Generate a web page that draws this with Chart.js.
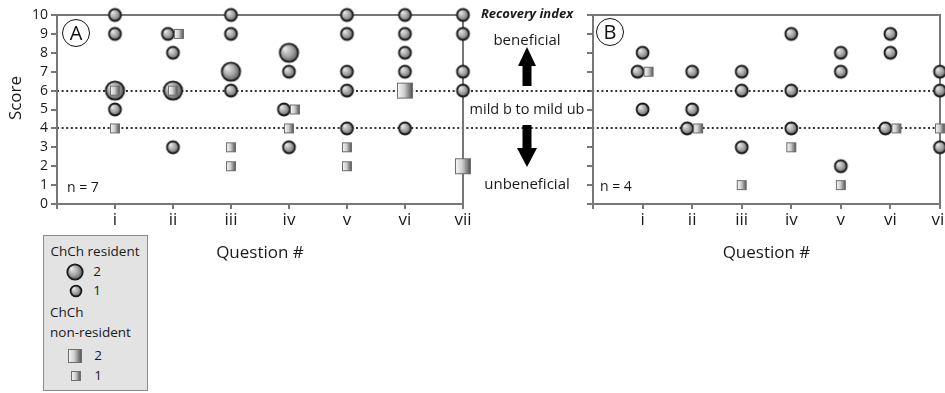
<!DOCTYPE html>
<html><head><meta charset="utf-8">
<script src="https://cdn.jsdelivr.net/npm/chart.js@4/dist/chart.umd.min.js"></script>
<style>
html,body{margin:0;padding:0;background:#fff;}
body{width:945px;height:393px;position:relative;overflow:hidden;font-family:"Open Sans",sans-serif;color:#1a1a1a;}
.t{position:absolute;white-space:nowrap;transform:translate(-50%,-50%);line-height:1;}
.tl{position:absolute;white-space:nowrap;transform:translate(0,-50%);line-height:1;}
#cA{position:absolute;left:0;top:0;}
#cB{position:absolute;left:560px;top:0;}
.badge{position:absolute;width:26px;height:26px;border:1.6px solid #111;border-radius:50%;transform:translate(-50%,-50%);display:flex;align-items:center;justify-content:center;font-size:20px;line-height:1;color:#111;}
#legend{position:absolute;left:43px;top:235px;width:103px;height:154px;background:#e3e3e3;border:1.5px solid #8a8a8a;font-size:13.5px;}
#legend canvas{position:absolute;transform:translate(-50%,-50%);}
#score{position:absolute;left:14px;top:98px;transform:translate(-50%,-50%) rotate(-90deg);font-size:17px;white-space:nowrap;line-height:1;}
</style></head><body>
<canvas id="cA" width="560" height="393"></canvas>
<canvas id="cB" width="400" height="393"></canvas>

<div id="score">Score</div>
<div class="t" style="left:527px;top:13px;font-weight:bold;font-style:italic;font-size:13px;">Recovery index</div>
<div class="t" style="left:527px;top:39px;font-size:15px;">beneficial</div>
<div class="t" style="left:527px;top:109px;font-size:14.5px;">mild b to mild ub</div>
<div class="t" style="left:527px;top:183px;font-size:15px;">unbeneficial</div>
<div class="badge" style="left:76px;top:33px;">A</div>
<div class="badge" style="left:610px;top:32px;">B</div>
<div class="tl" style="left:67px;top:187px;font-size:14px;">n = 7</div>
<div class="tl" style="left:600px;top:186px;font-size:14px;">n = 4</div>

<div id="legend">
  <div class="t" style="left:51px;top:16px;">ChCh resident</div>
  <div class="t" style="left:53px;top:36px;">2</div>
  <div class="t" style="left:53px;top:55px;">1</div>
  <div class="tl" style="left:6px;top:77px;">ChCh</div>
  <div class="tl" style="left:6px;top:97px;">non-resident</div>
  <div class="t" style="left:54px;top:120px;">2</div>
  <div class="t" style="left:54px;top:140px;">1</div>
</div>

<script>
// ---------- data ----------
const questions = ['i','ii','iii','iv','v','vi','vii'];
const scoreTicks = [0,1,2,3,4,5,6,7,8,9,10];
const refLines = [4, 6];
// [question, score, number of respondents]
const residentA = [
  ['i',10,1],['i',9,1],['i',6,2],['i',5,1],
  ['ii',9,1],['ii',8,1],['ii',6,2],['ii',3,1],
  ['iii',10,1],['iii',9,1],['iii',7,2],['iii',6,1],
  ['iv',8,2],['iv',7,1],['iv',5,1],['iv',3,1],
  ['v',10,1],['v',9,1],['v',7,1],['v',6,1],['v',4,1],
  ['vi',10,1],['vi',9,1],['vi',8,1],['vi',7,1],['vi',4,1],
  ['vii',10,1],['vii',9,1],['vii',7,1],['vii',6,1]
];
const nonResidentA = [
  ['i',6,1],['i',4,1],['ii',9,1],['ii',6,1],['iii',3,1],['iii',2,1],
  ['iv',5,1],['iv',4,1],['v',3,1],['v',2,1],['vi',6,2],['vii',2,2]
];
const residentB = [
  ['i',8,1],['i',7,1],['i',5,1],
  ['ii',7,1],['ii',5,1],['ii',4,1],
  ['iii',7,1],['iii',6,1],['iii',3,1],
  ['iv',9,1],['iv',6,1],['iv',4,1],
  ['v',8,1],['v',7,1],['v',2,1],
  ['vi',9,1],['vi',8,1],['vi',4,1],
  ['vii',7,1],['vii',6,1],['vii',3,1]
];
const nonResidentB = [
  ['i',7,1],['ii',4,1],['iii',1,1],['iv',3,1],['v',1,1],['vi',4,1],['vii',4,1]
];

// ---------- marker images ----------
function makeCircle(r){
  const c=document.createElement('canvas'); const s=Math.ceil(2*r+3); c.width=s; c.height=s;
  const g=c.getContext('2d'); const m=s/2;
  const gr=g.createRadialGradient(m-r*0.45,m-r*0.45,0,m,m,r*1.05);
  gr.addColorStop(0,'#f2f2f2'); gr.addColorStop(0.55,'#a5a5a5'); gr.addColorStop(1,'#4a4a4a');
  g.beginPath(); g.arc(m,m,r-0.8,0,Math.PI*2); g.fillStyle=gr; g.fill();
  g.lineWidth=1.8; g.strokeStyle='#1a1a1a'; g.stroke();
  return c;
}
function makeSquare(w){
  const c=document.createElement('canvas'); const s=Math.ceil(w+2); c.width=s; c.height=s;
  const g=c.getContext('2d'); const o=(s-w)/2;
  const gr=g.createLinearGradient(o,0,o+w,0);
  gr.addColorStop(0,'#fbfbfb'); gr.addColorStop(0.45,'#cfcfcf'); gr.addColorStop(1,'#474747');
  g.fillStyle=gr; g.fillRect(o,o,w,w);
  g.lineWidth=1; g.strokeStyle='#6e6e6e'; g.strokeRect(o+0.5,o+0.5,w-1,w-1);
  return c;
}
const circle1=makeCircle(6.8), circle2=makeCircle(10);
const square1=makeSquare(10), square2=makeSquare(16);

// legend markers
(function(){
  const lg=document.getElementById('legend');
  [[makeCircle(8.5),31,36],[makeCircle(6.2),32,55],[makeSquare(14),31,120],[makeSquare(10),32,140]].forEach(([cv,x,y])=>{
    cv.style.left=x+'px'; cv.style.top=y+'px'; lg.appendChild(cv);
  });
})();

// ---------- build points ----------
function buildPanel(res, nonres, pxPerUnit){
  const key=(q,s)=>q+'|'+s;
  const pairs=new Set();
  res.forEach(([q,s,n])=>{ if(n===1 && nonres.some(([q2,s2,n2])=>q2===q&&s2===s&&n2===1)) pairs.add(key(q,s)); });
  const circ=res.map(([q,s,n])=>({x:questions.indexOf(q)+1+(pairs.has(key(q,s))?-5/pxPerUnit:0),y:s,n}));
  const sq=nonres.map(([q,s,n])=>({x:questions.indexOf(q)+1+(pairs.has(key(q,s))?6/pxPerUnit:0),y:s,n}));
  return {circ,sq};
}

const framePlugin={
  id:'frame',
  beforeDatasetsDraw(chart,args,opts){
    const {ctx,chartArea:a}=chart; const ys=chart.scales.y;
    ctx.save();
    ctx.strokeStyle='#333'; ctx.lineWidth=2; ctx.setLineDash([2,2.6]);
    refLines.forEach(v=>{
      const py=Math.round(ys.getPixelForValue(v));
      ctx.beginPath();
      ctx.moveTo(opts.extendLeft?0:a.left,py);
      ctx.lineTo(opts.extendRight?chart.width:a.right,py);
      ctx.stroke();
    });
    ctx.setLineDash([]);
    ctx.strokeStyle='#777'; ctx.lineWidth=2;
    ctx.strokeRect(a.left,a.top,a.right-a.left,a.bottom-a.top);
    ctx.restore();
  },
  afterDraw(chart,args,opts){
    if(!opts.arrows) return;
    const ctx=chart.ctx; const cx=527;
    ctx.save(); ctx.fillStyle='#000';
    ctx.beginPath();
    ctx.moveTo(cx,47); ctx.lineTo(cx+9,66); ctx.lineTo(cx+4.5,66); ctx.lineTo(cx+4.5,86);
    ctx.lineTo(cx-4.5,86); ctx.lineTo(cx-4.5,66); ctx.lineTo(cx-9,66); ctx.closePath(); ctx.fill();
    ctx.beginPath();
    ctx.moveTo(cx,167); ctx.lineTo(cx+10,148); ctx.lineTo(cx+4.5,148); ctx.lineTo(cx+4.5,125);
    ctx.lineTo(cx-4.5,125); ctx.lineTo(cx-4.5,148); ctx.lineTo(cx-10,148); ctx.closePath(); ctx.fill();
    ctx.restore();
  }
};

Chart.defaults.font.family="'Open Sans', sans-serif";
Chart.defaults.color='#1a1a1a';

function makeChart(id, res, nonres, isA){
  const ppu = isA ? 58 : 49.6;
  const {circ,sq}=buildPanel(res,nonres,ppu);
  const gridCol='#777';
  return new Chart(document.getElementById(id),{
    type:'scatter',
    data:{datasets:[
      {label:'ChCh non-resident',data:sq,order:0,clip:false,
       pointStyle:c=>c.raw&&c.raw.n===2?square2:square1,
       pointRadius:c=>c.raw&&c.raw.n===2?8:5, pointHoverRadius:c=>c.raw&&c.raw.n===2?8:5},
      {label:'ChCh resident',data:circ,order:1,clip:false,
       pointStyle:c=>c.raw&&c.raw.n===2?circle2:circle1,
       pointRadius:c=>c.raw&&c.raw.n===2?10:6.8, pointHoverRadius:c=>c.raw&&c.raw.n===2?10:6.8}
    ]},
    options:{
      responsive:false, animation:false, events:[],
      layout:{padding:{left:0,right:isA?97:20,top:15,bottom:130}},
      plugins:{legend:{display:false},tooltip:{enabled:false},
        frame:{extendLeft:!isA,extendRight:isA,arrows:isA}},
      scales:{
        x:{type:'linear',min:0,max:7,
          afterBuildTicks:s=>{s.ticks=[0,1,2,3,4,5,6,7].map(v=>({value:v}));},
          ticks:{callback:v=>v===0?'':questions[v-1],font:{size:17},padding:1,maxRotation:0,autoSkip:false},
          grid:{drawOnChartArea:false,tickLength:5,color:gridCol,lineWidth:2},
          border:{color:gridCol,width:2},
          title:{display:true,text:'Question #',font:{size:17},padding:0},
          afterFit:s=>{s.height=59;}
        },
        y:{type:'linear',min:0,max:10,
          afterBuildTicks:s=>{s.ticks=scoreTicks.map(v=>({value:v}));},
          ticks:{display:isA,font:{size:14},padding:3,autoSkip:false},
          grid:{drawOnChartArea:false,tickLength:6,color:gridCol,lineWidth:2},
          border:{color:gridCol,width:2},
          title:{display:false},
          afterFit:s=>{s.width=isA?57:33;}
        }
      }
    },
    plugins:[framePlugin]
  });
}

makeChart('cA',residentA,nonResidentA,true);
makeChart('cB',residentB,nonResidentB,false);
</script>
</body></html>
